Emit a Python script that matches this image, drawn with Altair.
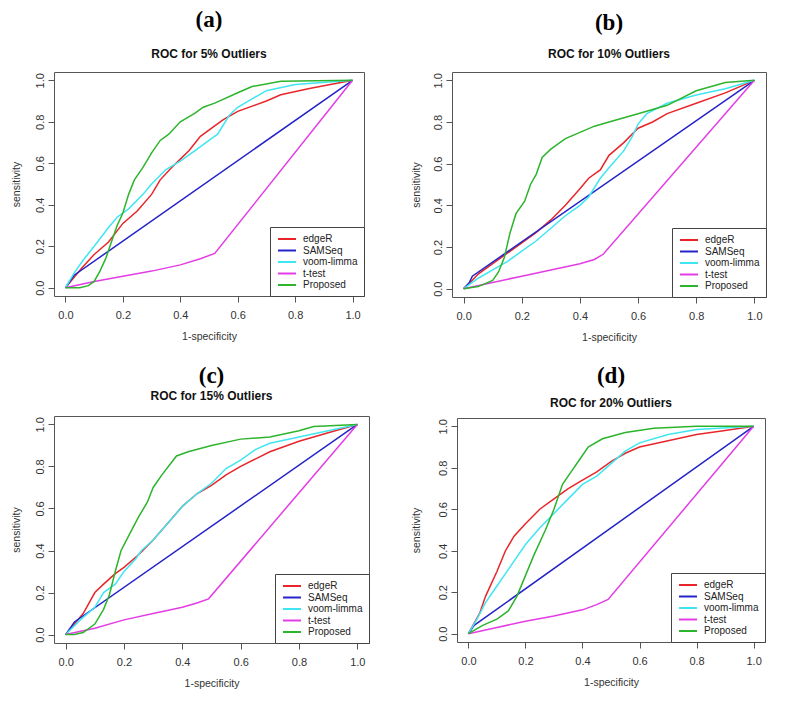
import altair as alt
import pandas as pd

METHODS = ["edgeR", "SAMSeq", "voom-limma", "t-test", "Proposed"]
COLORS = ["#e8262a", "#2424c8", "#3fe6f2", "#e43ce4", "#2db42d"]
TICKS = [0.0, 0.2, 0.4, 0.6, 0.8, 1.0]

LABELS = ["(a)", "(b)", "(c)", "(d)"]
SUBTITLES = ["ROC for 5% Outliers", "ROC for 10% Outliers",
             "ROC for 15% Outliers", "ROC for 20% Outliers"]

# ---- panel (a): 5% outliers ----
A_EDGER = [(0, 0), (0.03, 0.05), (0.06, 0.1), (0.1, 0.16), (0.15, 0.22), (0.2, 0.31),
           (0.25, 0.37), (0.3, 0.45), (0.33, 0.52), (0.37, 0.58), (0.4, 0.62), (0.43, 0.66),
           (0.47, 0.73), (0.52, 0.78), (0.55, 0.81), (0.6, 0.85), (0.7, 0.9), (0.75, 0.93),
           (0.85, 0.96), (1, 1)]
A_SAM = [(0, 0), (0.03, 0.06), (1, 1)]
A_VOOM = [(0, 0), (0.03, 0.07), (0.06, 0.13), (0.1, 0.2), (0.15, 0.29), (0.18, 0.34),
          (0.22, 0.38), (0.27, 0.45), (0.3, 0.5), (0.35, 0.57), (0.4, 0.61), (0.45, 0.66),
          (0.5, 0.71), (0.53, 0.74), (0.57, 0.83), (0.6, 0.87), (0.65, 0.91), (0.7, 0.95),
          (0.8, 0.98), (1, 1)]
A_TTEST = [(0, 0), (0.1, 0.03), (0.2, 0.055), (0.3, 0.08), (0.4, 0.11), (0.47, 0.14),
           (0.52, 0.165), (1, 1)]
A_PROP = [(0, 0), (0.05, 0.0), (0.08, 0.01), (0.1, 0.03), (0.12, 0.08), (0.14, 0.14),
          (0.16, 0.22), (0.18, 0.3), (0.2, 0.36), (0.22, 0.45), (0.24, 0.52), (0.27, 0.58),
          (0.3, 0.65), (0.33, 0.71), (0.36, 0.74), (0.4, 0.8), (0.45, 0.84), (0.48, 0.87),
          (0.52, 0.89), (0.6, 0.94), (0.65, 0.97), (0.75, 0.995), (1, 1)]

# ---- panel (b): 10% outliers ----
B_EDGER = [(0, 0), (0.03, 0.04), (0.05, 0.07), (0.1, 0.12), (0.15, 0.17), (0.2, 0.22),
           (0.25, 0.27), (0.3, 0.33), (0.35, 0.4), (0.4, 0.48), (0.43, 0.53), (0.47, 0.57),
           (0.5, 0.64), (0.55, 0.7), (0.6, 0.77), (0.65, 0.8), (0.7, 0.84), (0.8, 0.89),
           (0.9, 0.94), (1, 1)]
B_SAM = [(0, 0), (0.02, 0.03), (0.03, 0.06), (1, 1)]
B_VOOM = [(0, 0), (0.05, 0.05), (0.1, 0.09), (0.15, 0.13), (0.2, 0.18), (0.25, 0.23),
          (0.3, 0.29), (0.35, 0.35), (0.4, 0.4), (0.43, 0.44), (0.47, 0.53), (0.5, 0.58),
          (0.55, 0.66), (0.58, 0.73), (0.6, 0.79), (0.63, 0.84), (0.7, 0.89), (0.8, 0.93),
          (0.9, 0.96), (1, 1)]
B_TTEST = [(0, 0), (0.1, 0.03), (0.2, 0.06), (0.3, 0.09), (0.4, 0.12), (0.45, 0.14),
           (0.48, 0.165), (1, 1)]
B_PROP = [(0, 0), (0.05, 0.01), (0.1, 0.04), (0.12, 0.08), (0.14, 0.15), (0.16, 0.27),
          (0.18, 0.36), (0.21, 0.42), (0.23, 0.5), (0.25, 0.55), (0.27, 0.63), (0.3, 0.67),
          (0.35, 0.72), (0.4, 0.75), (0.45, 0.78), (0.5, 0.8), (0.6, 0.84), (0.7, 0.88),
          (0.8, 0.95), (0.9, 0.99), (1, 1)]

# ---- panel (c): 15% outliers ----
C_EDGER = [(0, 0), (0.03, 0.05), (0.06, 0.1), (0.08, 0.15), (0.1, 0.2), (0.13, 0.24),
           (0.17, 0.29), (0.2, 0.32), (0.25, 0.38), (0.3, 0.45), (0.35, 0.53), (0.4, 0.61),
           (0.45, 0.67), (0.5, 0.71), (0.55, 0.76), (0.6, 0.8), (0.7, 0.87), (0.8, 0.92),
           (0.9, 0.96), (1, 1)]
C_SAM = [(0, 0), (0.03, 0.06), (1, 1)]
C_VOOM = [(0, 0), (0.05, 0.07), (0.1, 0.13), (0.13, 0.2), (0.17, 0.24), (0.2, 0.3),
          (0.24, 0.36), (0.26, 0.4), (0.3, 0.45), (0.35, 0.53), (0.4, 0.61), (0.45, 0.67),
          (0.5, 0.72), (0.55, 0.79), (0.6, 0.83), (0.65, 0.88), (0.7, 0.91), (0.8, 0.94),
          (0.9, 0.97), (1, 1)]
C_TTEST = [(0, 0), (0.1, 0.03), (0.2, 0.07), (0.3, 0.1), (0.4, 0.13), (0.45, 0.15),
           (0.49, 0.17), (1, 1)]
C_PROP = [(0, 0), (0.03, 0.0), (0.06, 0.01), (0.1, 0.05), (0.13, 0.12), (0.15, 0.19),
          (0.17, 0.3), (0.19, 0.4), (0.22, 0.48), (0.25, 0.56), (0.28, 0.63), (0.3, 0.7),
          (0.33, 0.76), (0.38, 0.85), (0.42, 0.87), (0.5, 0.9), (0.6, 0.93), (0.7, 0.94),
          (0.8, 0.97), (0.85, 0.99), (1, 1)]

# ---- panel (d): 20% outliers ----
D_EDGER = [(0, 0), (0.02, 0.05), (0.04, 0.1), (0.06, 0.18), (0.08, 0.24), (0.1, 0.3),
           (0.13, 0.4), (0.16, 0.47), (0.2, 0.53), (0.25, 0.6), (0.3, 0.65), (0.35, 0.7),
           (0.4, 0.74), (0.45, 0.78), (0.5, 0.83), (0.55, 0.87), (0.6, 0.9), (0.7, 0.93),
           (0.8, 0.96), (0.9, 0.98), (1, 1)]
D_SAM = [(0, 0), (0.02, 0.04), (1, 1)]
D_VOOM = [(0, 0), (0.03, 0.07), (0.06, 0.15), (0.1, 0.23), (0.13, 0.29), (0.16, 0.35),
          (0.2, 0.43), (0.25, 0.51), (0.3, 0.58), (0.35, 0.65), (0.4, 0.72), (0.45, 0.76),
          (0.5, 0.82), (0.55, 0.88), (0.6, 0.92), (0.7, 0.96), (0.8, 0.985), (1, 1)]
D_TTEST = [(0, 0), (0.1, 0.03), (0.2, 0.06), (0.3, 0.085), (0.4, 0.115), (0.45, 0.14),
           (0.49, 0.165), (1, 1)]
D_PROP = [(0, 0), (0.05, 0.04), (0.1, 0.07), (0.14, 0.11), (0.17, 0.18), (0.2, 0.28),
          (0.23, 0.38), (0.27, 0.5), (0.3, 0.6), (0.33, 0.72), (0.36, 0.78), (0.39, 0.84),
          (0.42, 0.9), (0.47, 0.94), (0.55, 0.97), (0.65, 0.99), (0.8, 1.0), (1, 1)]

CURVES = [
    [A_EDGER, A_SAM, A_VOOM, A_TTEST, A_PROP],
    [B_EDGER, B_SAM, B_VOOM, B_TTEST, B_PROP],
    [C_EDGER, C_SAM, C_VOOM, C_TTEST, C_PROP],
    [D_EDGER, D_SAM, D_VOOM, D_TTEST, D_PROP],
]
SIZES = [(310, 224), (314, 225), (315, 227), (308, 224)]
SUB_PAD = [17, 14, 3, 10]
TITLE_OFF = [12, 12, 14, 9]
Y_TITLE_PAD = [13, 11, 13, 16]
Y_LABEL_PAD = [3, 3, 3, 3]


def make_panel(k):
    rows = []
    for m, pts in zip(METHODS, CURVES[k]):
        for i, (x, y) in enumerate(pts):
            rows.append({"method": m, "i": i, "fpr": x, "tpr": y})
    df = pd.DataFrame(rows)
    w, h = SIZES[k]
    return alt.Chart(df).mark_line(strokeWidth=1.5).encode(
        x=alt.X("fpr:Q",
                scale=alt.Scale(domain=[-0.04, 1.04], nice=False, zero=False),
                axis=alt.Axis(values=TICKS, format=".1f", title="1-specificity",
                              labelPadding=7, titlePadding=11)),
        y=alt.Y("tpr:Q",
                scale=alt.Scale(domain=[-0.04, 1.04], nice=False, zero=False),
                axis=alt.Axis(values=TICKS, format=".1f", title="sensitivity",
                              labelAngle=270, labelAlign="center", labelBaseline="bottom",
                              labelPadding=Y_LABEL_PAD[k], titlePadding=Y_TITLE_PAD[k])),
        color=alt.Color("method:N",
                        scale=alt.Scale(domain=METHODS, range=COLORS),
                        legend=alt.Legend(title=None, orient="bottom-right", offset=0,
                                          symbolType="M-1.8,0H1.8", symbolSize=100,
                                          symbolStrokeWidth=2, symbolOffset=5,
                                          labelFontSize=10,
                                          labelFont="Liberation Sans", labelColor="#222",
                                          labelOffset=10, rowPadding=0.5, padding=6,
                                          strokeColor="#444", fillColor="white")),
        order=alt.Order("i:Q"),
    ).properties(width=w, height=h,
                 title=alt.Title(text=LABELS[k], subtitle=SUBTITLES[k],
                                 subtitlePadding=SUB_PAD[k], offset=TITLE_OFF[k]))


chart = alt.concat(
    make_panel(0), make_panel(1), make_panel(2), make_panel(3),
    columns=2, align="none", spacing={"row": 21, "column": 40}
).resolve_scale(
    color="independent"
).properties(
    padding={"left": 2, "top": 0, "right": 0, "bottom": 0}
).configure_view(
    stroke="#555", strokeWidth=1
).configure_axis(
    domain=False, grid=False, tickSize=6, tickColor="#555", tickWidth=1,
    labelFont="Liberation Sans", labelFontSize=11, labelColor="#333",
    titleFont="Liberation Sans", titleFontSize=10.5, titleFontWeight="normal",
    titleColor="#333"
).configure_title(
    font="Liberation Serif", fontSize=23, fontWeight="bold", color="black",
    subtitleFont="Liberation Sans", subtitleFontSize=12, subtitleFontWeight="bold",
    subtitleColor="#111", anchor="middle"
)

chart.save("out.html", embed_options={"renderer": "svg", "actions": False})
